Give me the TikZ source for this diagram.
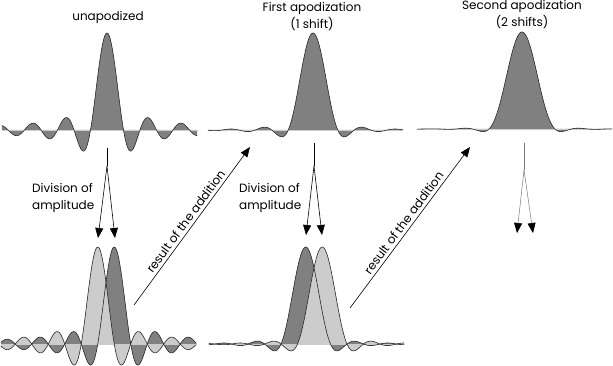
\documentclass[tikz,border=0pt]{standalone}
\usepackage{fontspec}
\setmainfont{Poppins}
\usetikzlibrary{arrows.meta}
\definecolor{darkfill}{RGB}{128,128,128}
\definecolor{lightfill}{RGB}{204,204,204}
\definecolor{outline}{RGB}{40,40,40}
\definecolor{faint}{RGB}{120,120,120}
\tikzset{
  curve/.style={draw=outline, line width=0.6pt, line join=round},
  baseln/.style={draw=lightfill, line width=0.8pt},
  arr/.style={-{Triangle[length=10pt,width=8pt]}, line width=0.6pt, draw=black},
  farr/.style={-{Triangle[length=10pt,width=8pt,color=black]}, line width=0.5pt, draw=faint},
  lbl/.style={font=\fontsize{12}{17}\selectfont, inner sep=0pt},
  smp/.style={domain=-6.37:5.47, samples=297, smooth},
}
\begin{document}
\begin{tikzpicture}[x=1pt,y=-1pt]
\useasboundingbox (0,0) rectangle (613,366);

% ---- top panel 1: unapodized (sinc)
\begin{scope}[shift={(107,130)}, x=16.5pt, y=97pt]
  \fill[darkfill] plot[smp] (\x,{sin(pi*\x r)/(pi*\x)}) -- (5.47,0) -- (-6.37,0) -- cycle;
  \draw[baseln] (-6.37,0) -- (5.47,0);
  \draw[curve] plot[smp] (\x,{sin(pi*\x r)/(pi*\x)});
\end{scope}

% ---- top panel 2: first apodization
\begin{scope}[shift={(313,130)}, x=16.5pt, y=97pt]
  \fill[darkfill] plot[smp] (\x,{cos(pi*\x r)/(1-4*\x*\x)}) -- (5.47,0) -- (-6.37,0) -- cycle;
  \draw[baseln] (-6.37,0) -- (5.47,0);
  \draw[curve] plot[smp] (\x,{cos(pi*\x r)/(1-4*\x*\x)});
\end{scope}

% ---- top panel 3: second apodization
\begin{scope}[shift={(522,129)}, x=16.5pt, y=97pt]
  \fill[darkfill] plot[smp] (\x,{sin(pi*\x r)/(pi*\x*(1-\x*\x))}) -- (5.47,0) -- (-6.37,0) -- cycle;
  \draw[baseln] (-6.37,0) -- (5.47,0);
  \draw[curve] plot[smp] (\x,{sin(pi*\x r)/(pi*\x*(1-\x*\x))});
\end{scope}

% ---- bottom panel 1: two shifted sincs
\begin{scope}[shift={(106,344)}, x=16.5pt, y=97pt]
  \fill[darkfill] plot[smp] (\x,{sin(pi*(\x-0.5) r)/(pi*(\x-0.5))}) -- (5.47,0) -- (-6.37,0) -- cycle;
  \fill[lightfill] plot[smp] (\x,{sin(pi*(\x+0.5) r)/(pi*(\x+0.5))}) -- (5.47,0) -- (-6.37,0) -- cycle;
  \draw[baseln] (-6.37,0) -- (5.47,0);
  \draw[curve] plot[smp] (\x,{sin(pi*(\x-0.5) r)/(pi*(\x-0.5))});
  \draw[curve] plot[smp] (\x,{sin(pi*(\x+0.5) r)/(pi*(\x+0.5))});
\end{scope}

% ---- bottom panel 2: two shifted first-apodized curves
\begin{scope}[shift={(314,344)}, x=16.5pt, y=97pt]
  \fill[darkfill] plot[smp] (\x,{cos(pi*(\x+0.5) r)/(1-4*(\x+0.5)*(\x+0.5))}) -- (5.47,0) -- (-6.37,0) -- cycle;
  \fill[lightfill] plot[smp] (\x,{cos(pi*(\x-0.5) r)/(1-4*(\x-0.5)*(\x-0.5))}) -- (5.47,0) -- (-6.37,0) -- cycle;
  \draw[baseln] (-6.37,0) -- (5.47,0);
  \draw[curve] plot[smp] (\x,{cos(pi*(\x+0.5) r)/(1-4*(\x+0.5)*(\x+0.5))});
  \draw[curve] plot[smp] (\x,{cos(pi*(\x-0.5) r)/(1-4*(\x-0.5)*(\x-0.5))});
\end{scope}

% ---- titles
\node[lbl] (t1) at (108,17) {unapodized};
\node[lbl, align=center] (t2) at (312,17) {First apodization\\(1 shift)};
\node[lbl, align=center] (t3) at (522,15) {Second apodization\\(2 shifts)};

% ---- division arrows
\coordinate (d1top) at (107,148);
\coordinate (d1mid) at (107,166);
\coordinate (d1l) at (98,238);
\coordinate (d1r) at (115,238);
\draw[line width=0.6pt] (d1top) -- (d1mid);
\draw[arr] (d1mid) -- (d1l);
\draw[arr] (d1mid) -- (d1r);
\node[lbl, align=left, anchor=west] (div1) at (32,198) {Division of\\amplitude};

\coordinate (d2top) at (314,143);
\coordinate (d2mid) at (314,166);
\coordinate (d2l) at (306,235);
\coordinate (d2r) at (322,235);
\draw[line width=0.6pt] (d2top) -- (d2mid);
\draw[arr] (d2mid) -- (d2l);
\draw[arr] (d2mid) -- (d2r);
\node[lbl, align=left, anchor=west] (div2) at (239,198) {Division of\\amplitude};

\coordinate (d3top) at (524,143);
\coordinate (d3mid) at (524,170);
\coordinate (d3l) at (517,233);
\coordinate (d3r) at (533,233);
\draw[line width=0.5pt, draw=faint] (d3top) -- (d3mid);
\draw[farr] (d3mid) -- (d3l);
\draw[farr] (d3mid) -- (d3r);

% ---- result arrows
\coordinate (r1s) at (134,305);
\coordinate (r1e) at (250,147);
\draw[arr] (r1s) -- node[lbl, midway, sloped, above=3pt] (r1t) {result of the addition} (r1e);
\coordinate (r2s) at (350,308);
\coordinate (r2e) at (470,147);
\draw[arr] (r2s) -- node[lbl, midway, sloped, above=3pt] (r2t) {result of the addition} (r2e);
\end{tikzpicture}
\end{document}
